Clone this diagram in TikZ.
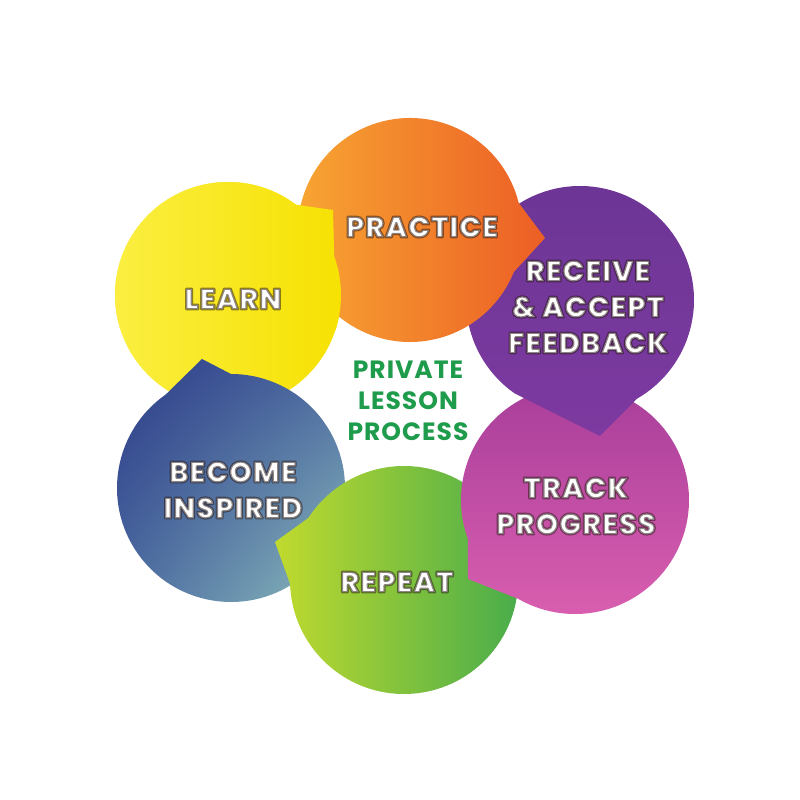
\documentclass[tikz,border=0pt]{standalone}
\usepackage{fontspec}
\setmainfont{Poppins}
\newfontfamily\bubblefont{Poppins}[LetterSpace=3, BoldFont={Poppins ExtraBold}]
\newfontfamily\centrefont{Poppins}[LetterSpace=4]
\usetikzlibrary{calc,shadings}
\definecolor{learnL}{HTML}{FBEF45}
\definecolor{learnR}{HTML}{F6E100}
\definecolor{practL}{HTML}{F8A833}
\definecolor{practR}{HTML}{EC5E25}
\definecolor{feedT}{HTML}{6B3595}
\definecolor{feedB}{HTML}{7D3AA0}
\definecolor{trackT}{HTML}{A53C99}
\definecolor{trackB}{HTML}{DC60B0}
\definecolor{repL}{HTML}{C0DA2E}
\definecolor{repR}{HTML}{48AC4B}
\definecolor{insUL}{HTML}{2A3786}
\definecolor{insUR}{HTML}{4D6CA2}
\definecolor{insLL}{HTML}{4868A0}
\definecolor{insLR}{HTML}{95C8C0}
\definecolor{centregreen}{HTML}{1E9B4B}
% bubble: centre, low angle, high angle, radius, tip of the pointer
\def\bubble[#1](#2)(#3:#4:#5)(#6){\shade[#1] ($(#2)+(#4:#5)$) arc[start angle=#4, end angle=#3+360, radius=#5] -- (#6) -- cycle;}
% white letters with a dark rim (fill and stroke text mode)
\def\halo#1{\special{pdf:literal direct 2 Tr 2.3 w 1 j 0.12 0.06 0.04 RG}#1\special{pdf:literal direct 0 Tr}}

\begin{document}
\begin{tikzpicture}[x=1pt, y=1pt,
	bubble text/.style={align=center, text=white, draw opacity=0.5, font=\fontsize{29}{36}\selectfont\bubblefont\bfseries, inner sep=0}]
			%%%%% START %%%%%
			\useasboundingbox[fill=white] (0, 0) rectangle (800, 800);
			
			\coordinate (learn) at (228, 505);
			\coordinate (practice) at (410, 570);
			\coordinate (feedback) at (580, 500);
			\coordinate (track) at (575, 300);
			\coordinate (repeat) at (404, 220);
			\coordinate (inspired) at (231, 312);
			
			% each bubble lies over the next one, the yellow one is redrawn at the end
			\bubble[left color=learnL, right color=learnR](learn)(20:53:113)(333, 590);
			\bubble[upper left=insUL, upper right=insUR, lower left=insLL, lower right=insLR](inspired)(90:125:114)(202, 441);
			\bubble[left color=repL, right color=repR](repeat)(147:182:114)(275, 258);
			\bubble[top color=trackT, bottom color=trackB](track)(-160:-120:114)(468, 221);
			\bubble[top color=feedT, bottom color=feedB](feedback)(-125:-60:114)(600, 364);
			\bubble[left color=practL, right color=practR](practice)(-22:14:112)(545, 562);
			\begin{scope}
				\clip (0, 470) rectangle (800, 800);
				\bubble[left color=learnL, right color=learnR](learn)(20:53:113)(333, 590);
			\end{scope}
			
			\node[bubble text] (learnlbl) at (233, 501) {\halo{LEARN}};
			\node[bubble text] (practicelbl) at (422, 573) {\halo{PRACTICE}};
			\node[bubble text] (feedbacklbl) at (588, 493) {\halo{RECEIVE\\\& ACCEPT\\FEEDBACK}};
			\node[bubble text] (tracklbl) at (576, 294) {\halo{TRACK\\PROGRESS}};
			\node[bubble text] (repeatlbl) at (397, 218) {\halo{REPEAT}};
			\node[bubble text] (inspiredlbl) at (233, 310) {\halo{BECOME\\INSPIRED}};
			
			\node[align=center, text=centregreen, inner sep=0, font=\fontsize{25}{31}\selectfont\centrefont\bfseries] (process) at (408, 399) {PRIVATE\\LESSON\\PROCESS};
			%%%%% END %%%%%
\end{tikzpicture}
\end{document}
